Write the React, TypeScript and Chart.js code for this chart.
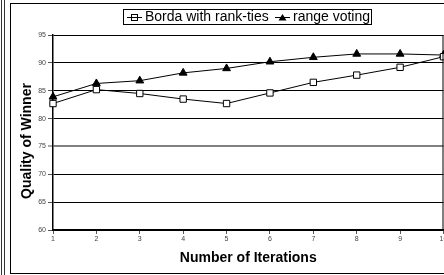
import React, { useEffect, useRef } from 'react';
import { Chart, registerables } from 'chart.js';

Chart.register(...registerables);

const iterations = ['1', '2', '3', '4', '5', '6', '7', '8', '9', '10'];
const bordaValues = [82.7, 85.2, 84.5, 83.5, 82.7, 84.6, 86.5, 87.8, 89.2, 91.1];
const rangeValues = [83.9, 86.3, 86.8, 88.2, 89.0, 90.2, 91.0, 91.6, 91.6, 91.4];
const yMin = 60;
const yMax = 95;
const yStep = 5;
const yTitle = 'Quality of Winner';
const xTitle = 'Number of Iterations';

const FONT = '"Liberation Sans", Arial, sans-serif';

const framePlugin = {
  id: 'frame',
  beforeDraw(chart: any) {
    const { ctx, width, height } = chart;
    ctx.save();
    ctx.fillStyle = '#fff';
    ctx.fillRect(0, 0, width, height);
    ctx.strokeStyle = '#333';
    ctx.lineWidth = 1;
    ctx.beginPath();
    ctx.moveTo(1.5, 0);
    ctx.lineTo(1.5, height);
    ctx.moveTo(4.5, 0);
    ctx.lineTo(4.5, height);
    ctx.stroke();
    ctx.strokeStyle = '#000';
    ctx.strokeRect(10.5, 3.5, width + 10, 270);
    ctx.restore();
  },
  afterDraw(chart: any) {
    const { ctx, chartArea } = chart;
    ctx.save();
    // right plot border
    ctx.strokeStyle = '#000';
    ctx.lineWidth = 1;
    ctx.beginPath();
    ctx.moveTo(chartArea.right - 0.5, chartArea.top);
    ctx.lineTo(chartArea.right - 0.5, chartArea.bottom);
    ctx.stroke();

    // y axis title
    ctx.save();
    ctx.translate(27.5, 141);
    ctx.rotate(-Math.PI / 2);
    ctx.font = 'bold 14px ' + FONT;
    ctx.textAlign = 'center';
    ctx.textBaseline = 'middle';
    ctx.fillStyle = '#000';
    ctx.fillText(yTitle, 0, 0);
    ctx.restore();

    // legend
    ctx.strokeRect(123.5, 9.5, 248, 15);
    const cy = 17;
    ctx.font = '14px ' + FONT;
    ctx.textBaseline = 'middle';
    ctx.textAlign = 'left';
    const items = chart.data.datasets;
    const xs = [127, 275];
    items.forEach((ds: any, i: number) => {
      const x0 = xs[i];
      const mx = x0 + 7.5;
      ctx.strokeStyle = '#000';
      ctx.lineWidth = 1;
      if (ds.pointStyle === 'rect') {
        ctx.fillStyle = '#fff';
        ctx.fillRect(mx - 3, cy - 2.5, 6, 6);
        ctx.strokeRect(mx - 3, cy - 2.5, 6, 6);
      }
      ctx.beginPath();
      ctx.moveTo(x0, cy + 0.5);
      ctx.lineTo(x0 + 15, cy + 0.5);
      ctx.stroke();
      if (ds.pointStyle !== 'rect') {
        ctx.fillStyle = '#000';
        ctx.beginPath();
        ctx.moveTo(mx, cy - 3);
        ctx.lineTo(mx + 4, cy + 3.5);
        ctx.lineTo(mx - 4, cy + 3.5);
        ctx.closePath();
        ctx.fill();
      }
      ctx.fillStyle = '#000';
      ctx.fillText(ds.label, x0 + 18, cy);
    });
    ctx.restore();
  },
};

export default function App() {
  const ref = useRef<HTMLCanvasElement | null>(null);

  useEffect(() => {
    if (!ref.current) return;
    const chart = new Chart(ref.current, {
      type: 'line',
      data: {
        labels: iterations,
        datasets: [
          {
            label: 'Borda with rank-ties',
            data: bordaValues,
            borderColor: '#000',
            borderWidth: 1,
            pointStyle: 'rect',
            pointRadius: 4.5,
            pointBackgroundColor: '#fff',
            pointBorderColor: '#000',
            pointBorderWidth: 1,
            tension: 0,
          },
          {
            label: 'range voting',
            data: rangeValues,
            borderColor: '#000',
            borderWidth: 1,
            pointStyle: 'triangle',
            pointRadius: 4.5,
            pointBackgroundColor: '#000',
            pointBorderColor: '#000',
            pointBorderWidth: 1,
            tension: 0,
          },
        ],
      },
      options: {
        animation: false,
        responsive: false,
        devicePixelRatio: 1,
        layout: { padding: { top: 35, left: 12, right: 1, bottom: 2 } },
        plugins: {
          legend: { display: false },
          tooltip: { enabled: false },
        },
        scales: {
          x: {
            type: 'category',
            offset: false,
            grid: {
              drawOnChartArea: false,
              drawTicks: true,
              tickLength: 4,
              tickColor: '#555',
            },
            border: { color: '#000', width: 1.5 },
            ticks: {
              font: { family: FONT, size: 7 },
              color: '#444',
              padding: 1,
              maxRotation: 0,
              autoSkip: false,
            },
            title: {
              display: true,
              text: xTitle,
              font: { family: FONT, size: 14, weight: 'bold' },
              color: '#000',
              padding: { top: 4, bottom: 6 },
            },
            afterFit(scale: any) {
              scale.height = 43;
            },
          },
          y: {
            min: yMin,
            max: yMax,
            grid: {
              color: (c: any) => (c.tick && c.tick.value === 75 ? '#808080' : '#000'),
              lineWidth: (c: any) => (c.tick && c.tick.value === 75 ? 2 : 1),
              tickLength: 5,
              tickColor: '#555',
              tickWidth: 1,
            },
            border: { color: '#000', width: 1.5 },
            ticks: {
              stepSize: yStep,
              font: { family: FONT, size: 7 },
              color: '#444',
              padding: 2,
            },
            afterFit(scale: any) {
              scale.width = 41;
            },
          },
        },
      },
      plugins: [framePlugin],
    });
    return () => chart.destroy();
  }, []);

  return (
    <div style={{ position: 'fixed', left: 0, top: 0, width: 444, height: 275, overflow: 'hidden', background: '#fff' }}>
      <canvas ref={ref} width={449} height={275} style={{ display: 'block', width: 449, height: 275 }} />
    </div>
  );
}
